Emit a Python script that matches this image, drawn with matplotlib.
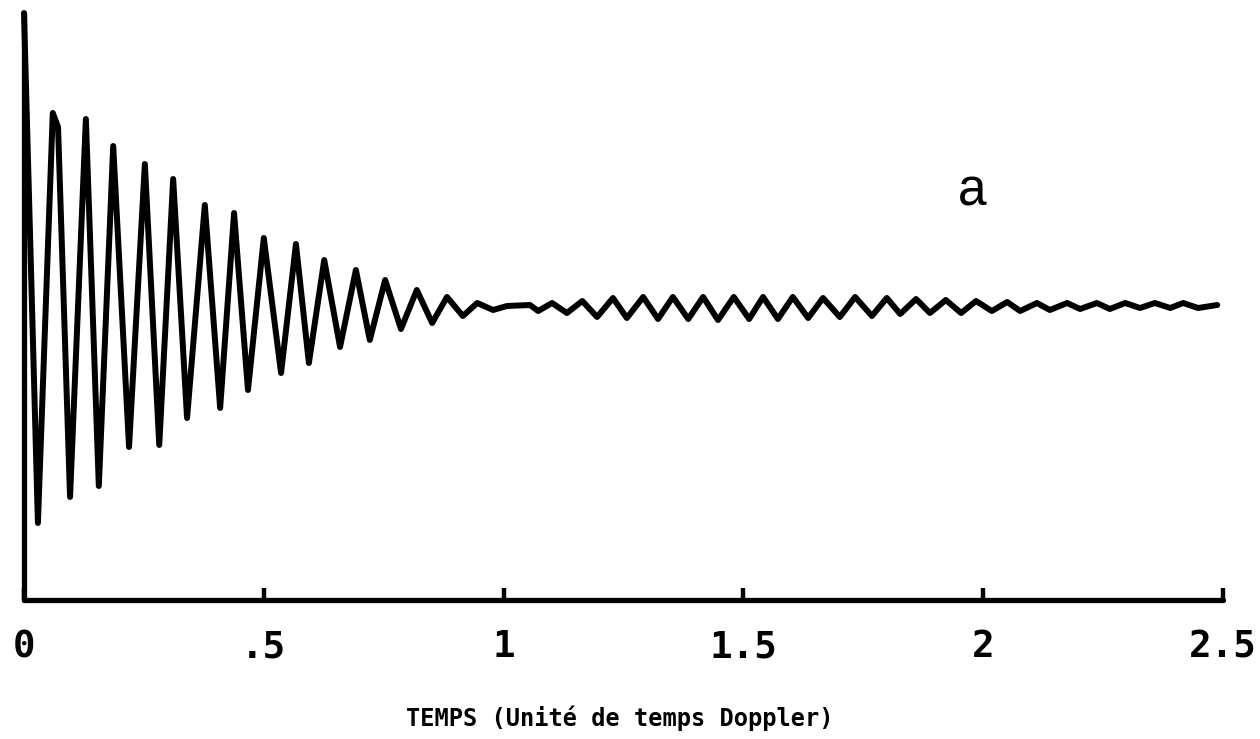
import matplotlib
matplotlib.use("Agg")
import matplotlib.pyplot as plt

# Curve vertices (time in Doppler units, signal in arbitrary units)
time = [0.000, 0.029, 0.060, 0.071, 0.096, 0.129, 0.156, 0.186, 0.219, 0.252,
        0.282, 0.311, 0.340, 0.377, 0.409, 0.438, 0.467, 0.500, 0.536, 0.567,
        0.594, 0.626, 0.659, 0.692, 0.721, 0.753, 0.786, 0.819, 0.851, 0.882,
        0.915, 0.945, 0.978, 1.007, 1.055, 1.072, 1.101, 1.132, 1.164, 1.195,
        1.228, 1.257, 1.291, 1.322, 1.353, 1.385, 1.416, 1.447, 1.480, 1.512,
        1.541, 1.572, 1.603, 1.635, 1.666, 1.701, 1.733, 1.768, 1.799, 1.827,
        1.860, 1.889, 1.922, 1.954, 1.985, 2.018, 2.050, 2.077, 2.112, 2.139,
        2.175, 2.202, 2.237, 2.264, 2.296, 2.327, 2.358, 2.390, 2.417, 2.448,
        2.488]
signal = [2.93, -2.17, 1.93, 1.79, -1.91, 1.87, -1.80, 1.60, -1.41, 1.42,
          -1.39, 1.27, -1.12, 1.01, -1.02, 0.93, -0.84, 0.68, -0.67, 0.62,
          -0.57, 0.46, -0.41, 0.36, -0.34, 0.26, -0.23, 0.16, -0.17, 0.09,
          -0.10, 0.03, -0.04, 0.00, 0.01, -0.05, 0.03, -0.07, 0.05, -0.11,
          0.08, -0.12, 0.09, -0.13, 0.09, -0.13, 0.09, -0.14, 0.09, -0.13,
          0.09, -0.13, 0.09, -0.12, 0.08, -0.11, 0.09, -0.10, 0.08, -0.08,
          0.07, -0.07, 0.06, -0.07, 0.05, -0.05, 0.04, -0.05, 0.03, -0.04,
          0.03, -0.03, 0.03, -0.03, 0.03, -0.02, 0.03, -0.02, 0.03, -0.02,
          0.01]

tick_values = [0, 0.5, 1, 1.5, 2, 2.5]
tick_labels = ["0", ".5", "1", "1.5", "2", "2.5"]
x_title = "TEMPS (Unité de temps Doppler)"
panel_label = "a"

W, H = 1260, 739
fig = plt.figure(figsize=(W / 100, H / 100), dpi=100)
ax = fig.add_axes([24 / W, (H - 600) / H, (1223 - 24) / W, (600 - 13) / H])

ax.plot(time, signal, color="black", lw=4.3, solid_joinstyle="round",
        solid_capstyle="round", clip_on=False)

ax.set_xlim(0, 2.5)
ax.set_ylim(-2.94, 2.93)
for s in ("top", "right"):
    ax.spines[s].set_visible(False)
for s in ("left", "bottom"):
    ax.spines[s].set_linewidth(3.8)
    ax.spines[s].set_color("black")
    ax.spines[s].set_capstyle("round")

ax.set_yticks([])
ax.set_xticks(tick_values)
ax.set_xticklabels(tick_labels, fontfamily="DejaVu Sans Mono",
                   fontweight="bold", fontsize=27)
ax.tick_params(axis="x", direction="in", length=9, width=3.2, pad=21,
               color="black")

fig.text(620 / W, 1 - 718 / H, x_title, ha="center", va="center",
         fontfamily="DejaVu Sans Mono", fontweight="bold", fontsize=17)
fig.text(972 / W, 1 - 192 / H, panel_label, ha="center", va="center",
         fontfamily="Liberation Sans", fontsize=37)

fig.savefig("out.png", dpi=100, facecolor="white")
